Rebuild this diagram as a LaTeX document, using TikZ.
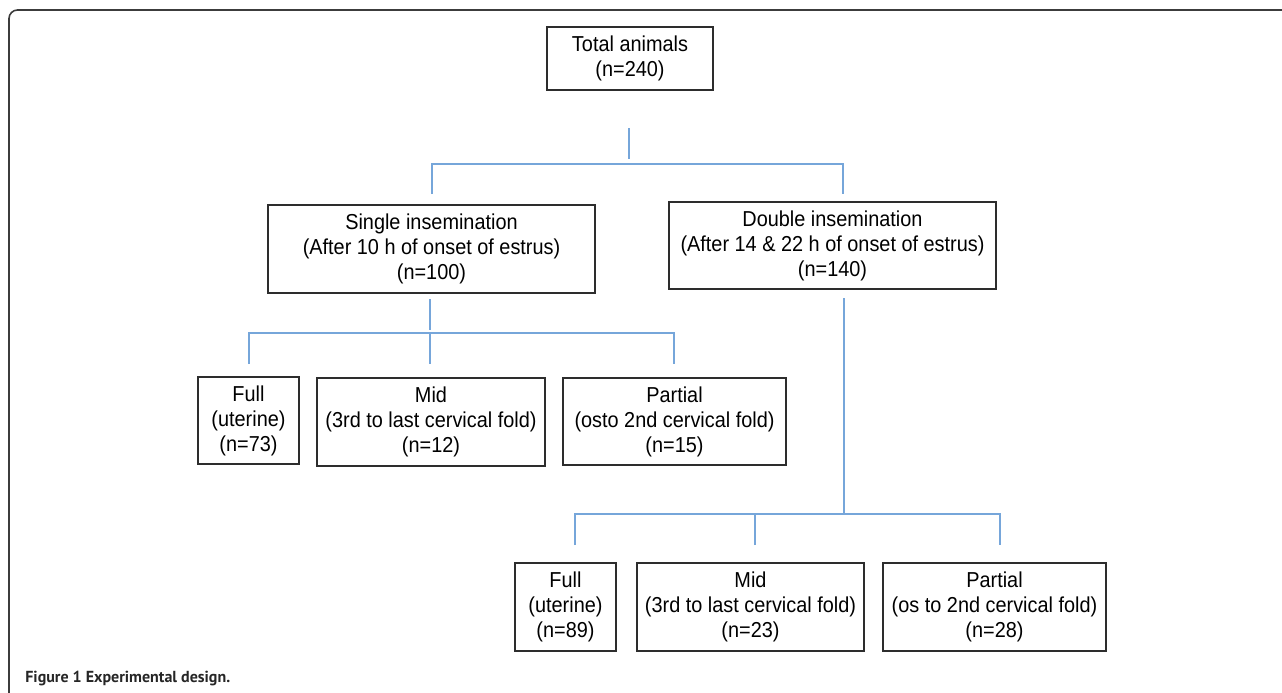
\documentclass[tikz,border=0pt]{standalone}
\usepackage{fontspec}
\setmainfont{Liberation Sans}
\newfontfamily\boxfont{Liberation Sans}[FakeStretch=0.92]
\newfontfamily\capfont{PT Sans}
\usepackage{tikz}
\usetikzlibrary{positioning, calc}
\usepackage{xcolor}
\definecolor{linkblue}{RGB}{118, 166, 218}
\definecolor{boxgray}{RGB}{45, 45, 45}
\definecolor{framegray}{RGB}{60, 60, 60}

\begin{document}
\begin{tikzpicture}[
    x=0.02cm, y=-0.02cm,
    box/.style={draw=boxgray, line width=0.75pt, inner sep=0pt,
                align=center, font=\boxfont\fontsize{12.3pt}{14.2pt}\selectfont},
    link/.style={draw=linkblue, line width=0.6pt},
    frame/.style={draw=framegray, line width=0.9pt, rounded corners=0.17cm},
  ]
    \useasboundingbox (0,0) rectangle (1282,693);

    % outer frame
    \coordinate (fb) at (9,693);
    \coordinate (fc) at (9,10);
    \coordinate (fr) at (1282,10);
    \draw[frame] (fb) -- (fc) -- (fr);

    % top level
    \node[box, minimum width=3.32cm, minimum height=1.26cm]
      (total) at (630,58.5) {Total animals\\(n=240)};

    % insemination groups
    \node[box, minimum width=6.54cm, minimum height=1.76cm]
      (single) at (431.5,249) {Single insemination\\(After 10 h of onset of estrus)\\(n=100)};
    \node[box, minimum width=6.54cm, minimum height=1.74cm]
      (double) at (832.5,245.5) {Double insemination\\(After 14 \& 22 h of onset of estrus)\\(n=140)};

    % single insemination sites
    \node[box, minimum width=2.02cm, minimum height=1.74cm]
      (sfull) at (248.5,420.5) {Full\\(uterine)\\(n=73)};
    \node[box, minimum width=4.56cm, minimum height=1.76cm]
      (smid) at (431,422) {Mid\\(3rd to last cervical fold)\\(n=12)};
    \node[box, minimum width=4.46cm, minimum height=1.74cm]
      (spart) at (674.5,421.5) {Partial\\(osto 2nd cervical fold)\\(n=15)};

    % double insemination sites
    \node[box, minimum width=2.02cm, minimum height=1.76cm]
      (dfull) at (565.5,607) {Full\\(uterine)\\(n=89)};
    \node[box, minimum width=4.54cm, minimum height=1.76cm]
      (dmid) at (750.5,607) {Mid\\(3rd to last cervical fold)\\(n=23)};
    \node[box, minimum width=4.46cm, minimum height=1.76cm]
      (dpart) at (994.5,607) {Partial\\(os to 2nd cervical fold)\\(n=28)};

    % branch points
    \coordinate (t1) at (629,128);
    \coordinate (t2) at (629,159);
    \coordinate (j1) at (629,164);
    \coordinate (sin) at (432,194);
    \coordinate (din) at (843,194);

    \coordinate (s1) at (430,299);
    \coordinate (s2) at (430,330);
    \coordinate (j2) at (430,333);
    \coordinate (sfin) at (249,364);
    \coordinate (smin) at (430,364);
    \coordinate (spin) at (674,364);

    \coordinate (d1) at (844,298);
    \coordinate (j3) at (844,514);
    \coordinate (dfin) at (575,545);
    \coordinate (dmin) at (755,545);
    \coordinate (dpin) at (1000,545);

    % Connectors
    \draw[link] (t1) -- (t2);
    \draw[link] (sin) |- (j1) -| (din);

    \draw[link] (s1) -- (s2);
    \draw[link] (sfin) |- (j2) -| (spin);
    \draw[link] (j2) -- (smin);

    \draw[link] (d1) -- (j3);
    \draw[link] (dfin) |- (j3) -| (dpin);
    \draw[link] (dmin) -- (dmin |- j3);

    % caption
    \node[anchor=base west, inner sep=0pt, font=\capfont\bfseries\fontsize{9.1pt}{11pt}\selectfont,
          text=black!85] (cap) at (25,682) {Figure 1 Experimental design.};
  \end{tikzpicture}
\end{document}
